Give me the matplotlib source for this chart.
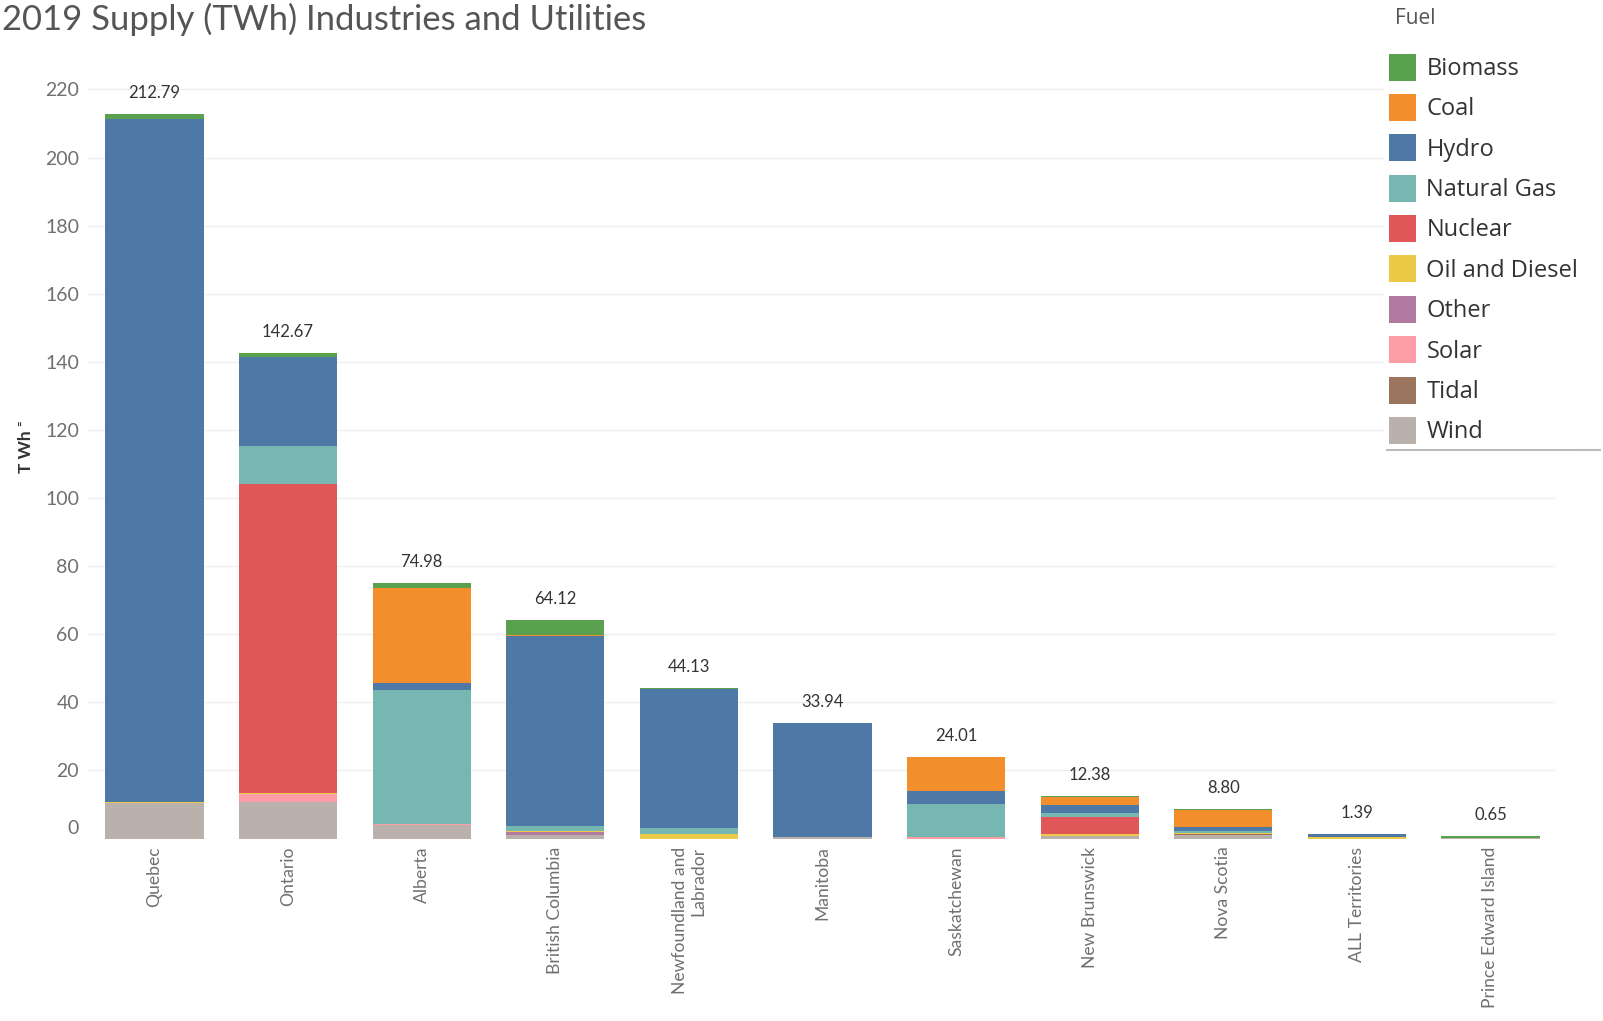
import matplotlib
matplotlib.use("Agg")
import matplotlib.pyplot as plt
from matplotlib.patches import Patch
from matplotlib.lines import Line2D
from matplotlib.transforms import ScaledTranslation
import numpy as np

# ---------------- data ----------------
provinces = ["Quebec", "Ontario", "Alberta", "British Columbia",
             "Newfoundland and\nLabrador", "Manitoba", "Saskatchewan",
             "New Brunswick", "Nova Scotia", "ALL Territories",
             "Prince Edward Island"]
fuels = ["Biomass", "Coal", "Hydro", "Natural Gas", "Nuclear",
         "Oil and Diesel", "Other", "Solar", "Tidal", "Wind"]
fuel_colors = ["#59A14F", "#F28E2B", "#4E79A7", "#76B7B2", "#E15759",
               "#EDC948", "#B07AA1", "#FF9DA7", "#9C755F", "#BAB0AC"]

biomass     = [1.4, 1.2, 1.3, 4.4, 0.1, 0.1, 0.15, 0.3, 0.3, 0.1, 0.45]
coal        = [0, 0, 28.0, 0.2, 0, 0, 9.8, 2.1, 5.2, 0, 0]
hydro       = [200.59, 26.1, 2.1, 55.92, 40.83, 33.54, 3.9, 2.6, 1.0, 0.79, 0]
natural_gas = [0, 11.25, 39.2, 1.5, 2.0, 0, 9.76, 1.2, 0.7, 0.1, 0]
nuclear     = [0, 90.82, 0, 0, 0, 0, 0, 4.98, 0, 0, 0]
oil_diesel  = [0.3, 0.3, 0, 0.3, 1.2, 0, 0, 0.5, 0.2, 0.4, 0]
other       = [0, 0, 0, 0.8, 0, 0, 0, 0, 0.2, 0, 0]
solar       = [0, 2.3, 0.38, 0, 0, 0, 0.4, 0, 0, 0, 0]
tidal       = [0, 0, 0, 0, 0, 0, 0, 0, 0.1, 0, 0]
wind        = [10.5, 10.7, 4.0, 1.0, 0, 0.3, 0, 0.7, 1.1, 0, 0.2]

series = {"Biomass": biomass, "Coal": coal, "Hydro": hydro,
          "Natural Gas": natural_gas, "Nuclear": nuclear,
          "Oil and Diesel": oil_diesel, "Other": other, "Solar": solar,
          "Tidal": tidal, "Wind": wind}

y_ticks = list(range(0, 221, 20))
title = "2019 Supply (TWh) Industries and Utilities"

# ---------------- figure ----------------
FONT = ["Lato", "DejaVu Sans"]
plt.rcParams["font.family"] = FONT
W, H = 1603, 1021
fig = plt.figure(figsize=(W / 100, H / 100), dpi=100)
base_px = 838.5
px_per_unit = 3.405
ymax = 228
ax = fig.add_axes([88 / W, (H - base_px) / H, (1555 - 88) / W,
                   ymax * px_per_unit / H])

x = np.arange(len(provinces))
bottom = np.zeros(len(provinces))
for name, color in reversed(list(zip(fuels, fuel_colors))):
    vals = np.array(series[name], dtype=float)
    ax.bar(x, vals, 0.735, bottom=bottom, color=color, linewidth=0,
           zorder=2)
    bottom += vals
totals = bottom

for xi, t in zip(x, totals):
    ax.annotate(f"{t:.2f}", (xi, t), xytext=(0, 21),
                textcoords="offset pixels", ha="center", va="center",
                fontsize=12, color="#333333")

ax.set_xlim(-0.497, 10.483)
ax.set_ylim(0, ymax)
ax.set_yticks(y_ticks)
ax.set_yticklabels([str(v) for v in y_ticks])
ax.set_xticks(x)
ax.set_xticklabels(provinces, rotation=90, ha="center", va="top",
                   multialignment="right")
ax.tick_params(axis="y", length=0, pad=6.5, labelsize=14,
               labelcolor="#707070")
ax.tick_params(axis="x", length=0, pad=5.8, labelsize=12.6,
               labelcolor="#707070")
for s in ax.spines.values():
    s.set_visible(False)
ax.yaxis.grid(True, color="#efefef", linewidth=1)
ax.set_axisbelow(True)

# raise the "0" label as in the original
lbl0 = ax.get_yticklabels()[0]
lbl0.set_transform(lbl0.get_transform() +
                   ScaledTranslation(0, 12 / 100, fig.dpi_scale_trans))

ax.set_ylabel("T Wh \u207c", fontsize=12.5, fontweight="bold",
              color="#333333")
ax.yaxis.set_label_coords((34 - 88) / 1467,
                          (base_px - 447) / (ymax * px_per_unit))

# title, scaled to the reference width
ttl = fig.text(2 / W, 1 - 3 / H, title, ha="left", va="top", fontsize=24,
               color="#555555")
fig.canvas.draw()
bb = ttl.get_window_extent()
ttl.set_fontsize(24 * 645 / bb.width)

# legend
LFS = 17
handles = [Patch(facecolor=c, edgecolor="none", label=f)
           for f, c in zip(fuels, fuel_colors)]
leg = fig.legend(handles=handles, loc="upper left",
                 bbox_to_anchor=(1384 / W, 1 - 49 / H), frameon=True,
                 facecolor="white", edgecolor="none", framealpha=1,
                 prop={"family": ["Open Sans", "DejaVu Sans"], "size": LFS},
                 handlelength=1.144, handleheight=1.383,
                 labelspacing=0.55, handletextpad=0.45,
                 borderpad=0.2, borderaxespad=0)
for t in leg.get_texts():
    t.set_color("#333333")
fig.text(1395 / W, 1 - 18 / H, "Fuel", ha="left", va="center",
         fontsize=15, color="#555555",
         family=["Open Sans", "DejaVu Sans"])
fig.add_artist(Line2D([1387 / W, 1600 / W], [1 - 450 / H] * 2,
                      color="#bbbbbb", linewidth=1.5))

fig.savefig("out.png", dpi=100)
